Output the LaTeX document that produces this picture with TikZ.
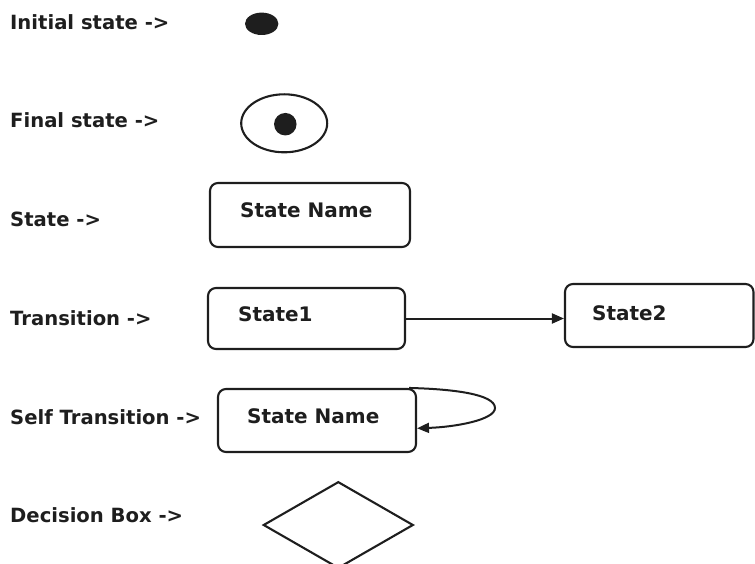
\documentclass[tikz,border=0pt]{standalone}
\usepackage{fontspec}
\setmainfont{DejaVu Sans}
\usetikzlibrary{shapes.geometric,arrows.meta}
\definecolor{ink}{HTML}{1E1E1E}
\tikzset{
  lbl/.style={anchor=west, inner sep=0pt, text=ink,
    font=\bfseries\fontsize{19.6}{22}\selectfont},
  boxtext/.style={anchor=west, inner sep=0pt, text=ink,
    font=\bfseries\fontsize{20}{22}\selectfont},
  statebox/.style={draw=ink, line width=2.1pt, rounded corners=8pt,
    inner sep=0pt},
  flow/.style={draw=ink, line width=2pt,
    -{Triangle[length=12pt,width=10pt]}}
}
\begin{document}
\begin{tikzpicture}[x=1pt, y=-1pt]
\useasboundingbox (0,0) rectangle (755,564);
\clip (0,0) rectangle (755,564);

% legend labels
\node[lbl] (lInit)  at (10,22.5)  {Initial state ->};
\node[lbl] (lFinal) at (10,120.5) {Final state ->};
\node[lbl] (lState) at (10,219.5) {State ->};
\node[lbl] (lTrans) at (10,318)   {Transition ->};
\node[lbl] (lSelf)  at (10,417.5) {Self Transition ->};
\node[lbl] (lDec)   at (10,515.5) {Decision Box ->};

% initial state
\node[ellipse, fill=ink, inner sep=0pt, minimum width=33.4pt,
      minimum height=22.4pt] (init) at (261.7,23.8) {};

% final state
\node[ellipse, draw=ink, line width=2.1pt, inner sep=0pt,
      minimum width=86pt, minimum height=58pt] (fin) at (284.2,123.3) {};
\node[circle, fill=ink, inner sep=0pt, minimum size=22.5pt]
      (finDot) at (285.3,124.2) {};

% simple state
\node[statebox, minimum width=200pt, minimum height=64pt] (sA) at (310,215) {};
\node[boxtext] (sAtxt) at ([shift={(31,-4.5)}]sA.west) {State Name};

% transition
\node[statebox, minimum width=197pt, minimum height=61pt] (s1) at (306.5,318.5) {};
\node[boxtext] (s1txt) at ([shift={(31,-4)}]s1.west) {State1};
\node[statebox, minimum width=188.5pt, minimum height=63pt] (s2) at (659.25,315.5) {};
\node[boxtext] (s2txt) at ([shift={(28,-2.5)}]s2.west) {State2};
\draw[flow] (s1.east) -- (s1.east -| s2.west);

% self transition
\node[statebox, minimum width=198pt, minimum height=63pt] (sS) at (317,420.5) {};
\node[boxtext] (sStxt) at ([shift={(30,-4)}]sS.west) {State Name};
\coordinate (loopStart) at ([shift={(-8,0)}]sS.north east);
\coordinate (loopEnd) at ([shift={(0,7.8)}]sS.east);
\draw[flow] (loopStart) .. controls (452,389) and (495,394) .. (495,408)
  .. controls (495,420) and (455,427) .. (loopEnd);

% decision box
\node[diamond, draw=ink, line width=2.1pt, inner sep=0pt,
      minimum width=150pt, minimum height=86.6pt] (dec) at (338.3,525) {};
\end{tikzpicture}
\end{document}
